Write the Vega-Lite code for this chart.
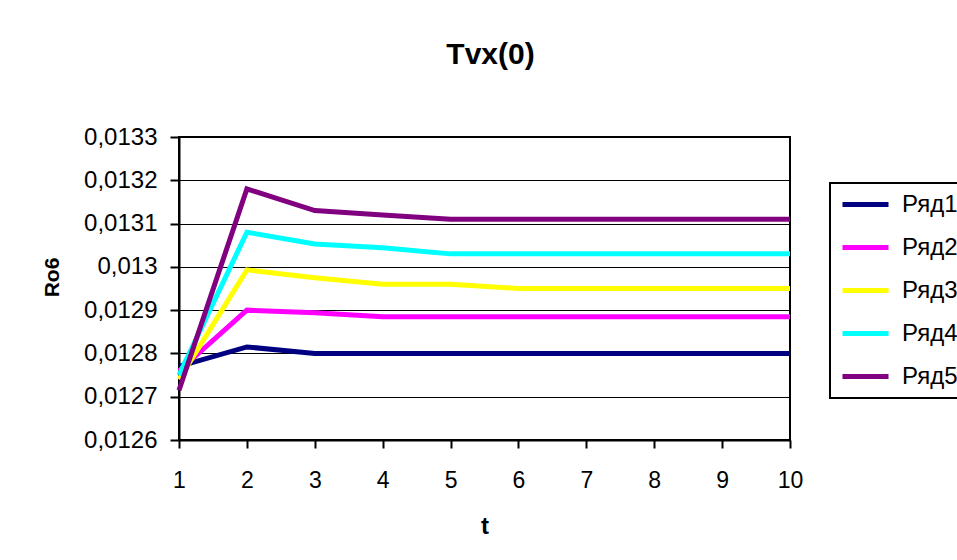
{
  "$schema": "https://vega.github.io/schema/vega-lite/v6.json",
  "autosize": {"type": "none"},
  "padding": {"left": 179, "top": 137, "right": 167, "bottom": 120},
  "width": 611,
  "height": 303,
  "background": "white",
  "title": {"text": "Tvx(0)", "fontSize": 30, "fontWeight": "bold", "font": "Liberation Sans", "color": "black", "offset": 31, "baseline": "alphabetic", "dx": 6, "anchor": "middle"},
  "data": {"values": [
    {"t": 1, "s": "Ряд1", "v": 0.01277},
    {"t": 2, "s": "Ряд1", "v": 0.012815},
    {"t": 3, "s": "Ряд1", "v": 0.0128},
    {"t": 4, "s": "Ряд1", "v": 0.0128},
    {"t": 5, "s": "Ряд1", "v": 0.0128},
    {"t": 6, "s": "Ряд1", "v": 0.0128},
    {"t": 7, "s": "Ряд1", "v": 0.0128},
    {"t": 8, "s": "Ряд1", "v": 0.0128},
    {"t": 9, "s": "Ряд1", "v": 0.0128},
    {"t": 10, "s": "Ряд1", "v": 0.0128},
    {"t": 1, "s": "Ряд2", "v": 0.01276},
    {"t": 2, "s": "Ряд2", "v": 0.0129},
    {"t": 3, "s": "Ряд2", "v": 0.012894},
    {"t": 4, "s": "Ряд2", "v": 0.012885},
    {"t": 5, "s": "Ряд2", "v": 0.012885},
    {"t": 6, "s": "Ряд2", "v": 0.012885},
    {"t": 7, "s": "Ряд2", "v": 0.012885},
    {"t": 8, "s": "Ряд2", "v": 0.012885},
    {"t": 9, "s": "Ряд2", "v": 0.012885},
    {"t": 10, "s": "Ряд2", "v": 0.012885},
    {"t": 1, "s": "Ряд3", "v": 0.01274},
    {"t": 2, "s": "Ряд3", "v": 0.012993},
    {"t": 3, "s": "Ряд3", "v": 0.012975},
    {"t": 4, "s": "Ряд3", "v": 0.01296},
    {"t": 5, "s": "Ряд3", "v": 0.01296},
    {"t": 6, "s": "Ряд3", "v": 0.01295},
    {"t": 7, "s": "Ряд3", "v": 0.01295},
    {"t": 8, "s": "Ряд3", "v": 0.01295},
    {"t": 9, "s": "Ряд3", "v": 0.01295},
    {"t": 10, "s": "Ряд3", "v": 0.01295},
    {"t": 1, "s": "Ряд4", "v": 0.01275},
    {"t": 2, "s": "Ряд4", "v": 0.01308},
    {"t": 3, "s": "Ряд4", "v": 0.013053},
    {"t": 4, "s": "Ряд4", "v": 0.013044},
    {"t": 5, "s": "Ряд4", "v": 0.01303},
    {"t": 6, "s": "Ряд4", "v": 0.01303},
    {"t": 7, "s": "Ряд4", "v": 0.01303},
    {"t": 8, "s": "Ряд4", "v": 0.01303},
    {"t": 9, "s": "Ряд4", "v": 0.01303},
    {"t": 10, "s": "Ряд4", "v": 0.01303},
    {"t": 1, "s": "Ряд5", "v": 0.012715},
    {"t": 2, "s": "Ряд5", "v": 0.01318},
    {"t": 3, "s": "Ряд5", "v": 0.01313},
    {"t": 4, "s": "Ряд5", "v": 0.01312},
    {"t": 5, "s": "Ряд5", "v": 0.01311},
    {"t": 6, "s": "Ряд5", "v": 0.01311},
    {"t": 7, "s": "Ряд5", "v": 0.01311},
    {"t": 8, "s": "Ряд5", "v": 0.01311},
    {"t": 9, "s": "Ряд5", "v": 0.01311},
    {"t": 10, "s": "Ряд5", "v": 0.01311}
  ]},
  "mark": {"type": "line", "strokeWidth": 5, "strokeJoin": "miter", "clip": false},
  "encoding": {
    "x": {
      "field": "t", "type": "quantitative",
      "scale": {"domain": [1, 10], "nice": false, "zero": false},
      "axis": {
        "title": "t", "values": [1,2,3,4,5,6,7,8,9,10], "format": "d",
        "grid": false, "tickSize": 8, "tickColor": "black", "tickWidth": 2,
        "domainColor": "black", "domainWidth": 2, "labelFlush": false, "labelOverlap": false,
        "labelFontSize": 23, "labelFont": "Liberation Sans", "labelColor": "black", "labelPadding": 21,
        "titleFontSize": 24, "titleFont": "Liberation Sans", "titleFontWeight": "bold", "titleColor": "black",
        "titleY": 93, "titleBaseline": "alphabetic", "titleX": 305.5, "titleAlign": "center"
      }
    },
    "y": {
      "field": "v", "type": "quantitative",
      "scale": {"domain": [0.0126, 0.0133], "nice": false, "zero": false},
      "axis": {
        "title": "Ro6",
        "values": [0.0126, 0.0127, 0.0128, 0.0129, 0.013, 0.0131, 0.0132, 0.0133],
        "labelExpr": "replace(format(datum.value, '.4~f'), '.', ',')",
        "grid": true, "gridColor": "black", "gridWidth": 1.2, "gridOpacity": 1,
        "tickSize": 9, "tickColor": "black", "tickWidth": 2, "labelFlush": false, "labelOverlap": false,
        "domainColor": "black", "domainWidth": 2,
        "labelFontSize": 24, "labelFont": "Liberation Sans", "labelColor": "black", "labelPadding": 13,
        "titleFontSize": 21, "titleFont": "Liberation Sans", "titleFontWeight": "bold", "titleColor": "black",
        "titleAngle": -90, "titleX": -127, "titleY": 140, "titleAlign": "center", "titleBaseline": "middle"
      }
    },
    "color": {
      "field": "s", "type": "nominal",
      "scale": {"domain": ["Ряд1", "Ряд2", "Ряд3", "Ряд4", "Ряд5"], "range": ["#000080", "#FF00FF", "#FFFF00", "#00FFFF", "#800080"]},
      "legend": {
        "title": null, "orient": "none", "legendX": 651, "legendY": 46,
        "strokeColor": "black", "padding": 9,
        "symbolType": "M-0.9,0H3.7", "symbolSize": 400, "symbolStrokeWidth": 5,
        "labelFontSize": 24, "labelFont": "Liberation Sans", "labelColor": "black", "labelOffset": 38,
        "rowPadding": 18, "fillColor": "white",
        "encode": {"legend": {"update": {"strokeWidth": {"value": 2}}}}
      }
    }
  },
  "config": {"view": {"stroke": "black", "strokeWidth": 2}}
}
